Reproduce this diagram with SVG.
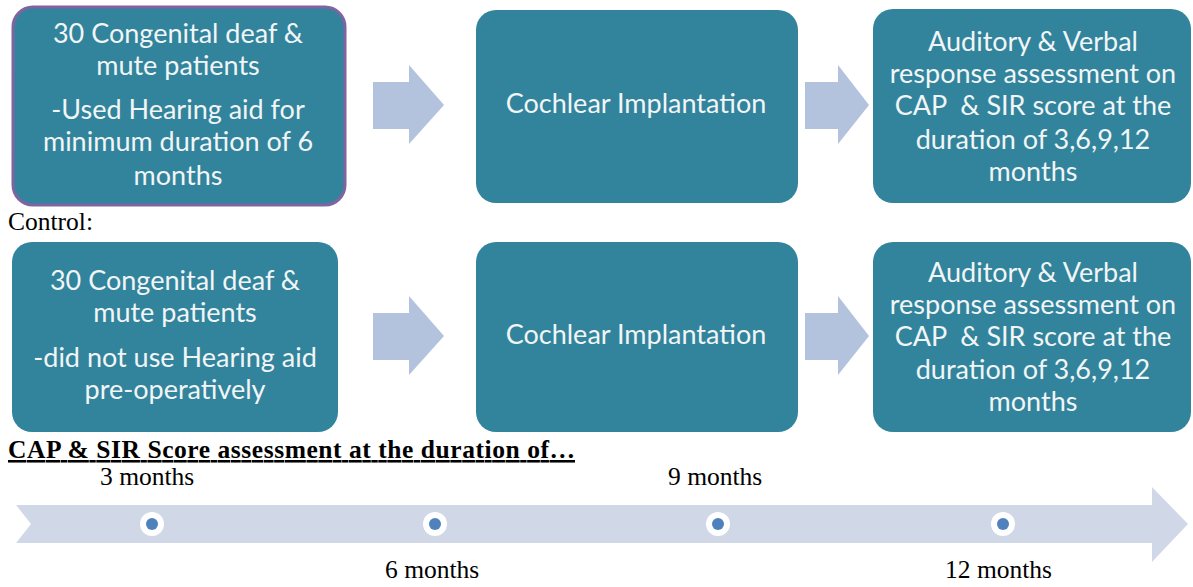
<svg xmlns="http://www.w3.org/2000/svg" width="1193" height="587" viewBox="0 0 1193 587">
<style>
.box{fill:#31849B;}
.bt{font-family:Lato,"Open Sans",sans-serif;font-size:27px;fill:#F2F5F7;text-anchor:middle;}
.arr{fill:#B3C2DD;}
.tm{font-family:"Liberation Serif",serif;font-size:25.5px;fill:#000;}
</style>
<rect width="1193" height="587" fill="#fff"/>
<g id="connectors">
<polygon class="arr" points="373,82 409,82 409,65 444,105 409,144 409,129 373,129"/>
<polygon class="arr" points="805,82 838,82 838,65 869,105 838,144 838,129 805,129"/>
<polygon class="arr" points="373,313 409,313 409,296 444,336 409,375 409,360 373,360"/>
<polygon class="arr" points="805,313 838,313 838,296 869,336 838,375 838,360 805,360"/>
</g>
<g id="n1">
<rect class="box" x="13" y="7" width="332" height="198" rx="20" stroke="#8064A2" stroke-width="3"/>
<text class="bt" x="178" y="43">30 Congenital deaf &amp;</text>
<text class="bt" x="178" y="75">mute patients</text>
<text class="bt" x="178" y="119">-Used Hearing aid for</text>
<text class="bt" x="178" y="151">minimum duration of 6</text>
<text class="bt" x="178" y="185">months</text>
</g>
<g id="n2">
<rect class="box" x="476" y="10" width="322" height="193" rx="20"/>
<text class="bt" x="636" y="113">Cochlear Implantation</text>
</g>
<g id="n3">
<rect class="box" x="873" y="9" width="318" height="194" rx="20"/>
<text class="bt" x="1033" y="51">Auditory &amp; Verbal</text>
<text class="bt" x="1033" y="83">response assessment on</text>
<text class="bt" x="1033" y="115" xml:space="preserve">CAP  &amp; SIR score at the</text>
<text class="bt" x="1033" y="149">duration of 3,6,9,12</text>
<text class="bt" x="1033" y="181">months</text>
</g>
<text class="tm" x="8" y="230">Control:</text>
<g id="n4">
<rect class="box" x="12" y="242" width="326" height="190" rx="20"/>
<text class="bt" x="175" y="290">30 Congenital deaf &amp;</text>
<text class="bt" x="175" y="322">mute patients</text>
<text class="bt" x="175" y="367">-did not use Hearing aid</text>
<text class="bt" x="175" y="399">pre-operatively</text>
</g>
<g id="n5">
<rect class="box" x="476" y="242" width="322" height="190" rx="20"/>
<text class="bt" x="636" y="344">Cochlear Implantation</text>
</g>
<g id="n6">
<rect class="box" x="873" y="242" width="318" height="190" rx="20"/>
<text class="bt" x="1033" y="282">Auditory &amp; Verbal</text>
<text class="bt" x="1033" y="314">response assessment on</text>
<text class="bt" x="1033" y="346" xml:space="preserve">CAP  &amp; SIR score at the</text>
<text class="bt" x="1033" y="379">duration of 3,6,9,12</text>
<text class="bt" x="1033" y="411">months</text>
</g>
<text class="tm" x="8" y="458" font-weight="bold" text-decoration="underline" textLength="567">CAP &amp; SIR Score assessment at the duration of…</text>
<g id="timeline">
<polygon fill="#D0D8E8" points="16,505 1152,505 1152,487 1188,524 1152,562 1152,543 16,543 31,524"/>
<g fill="#fff"><circle cx="152" cy="524" r="12"/><circle cx="435" cy="524" r="12"/><circle cx="718" cy="524" r="12"/><circle cx="1003" cy="524" r="12"/></g>
<g fill="#4F81BD"><circle cx="152" cy="524" r="6"/><circle cx="435" cy="524" r="6"/><circle cx="718" cy="524" r="6"/><circle cx="1003" cy="524" r="6"/></g>
</g>
<text class="tm" x="100" y="485">3 months</text>
<text class="tm" x="668" y="485">9 months</text>
<text class="tm" x="385" y="578">6 months</text>
<text class="tm" x="945" y="578">12 months</text>
</svg>
